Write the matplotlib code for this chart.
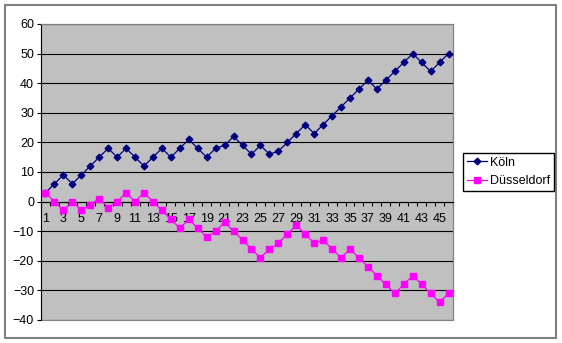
import matplotlib
matplotlib.use('Agg')
import matplotlib.pyplot as plt
from matplotlib.patches import Rectangle
from matplotlib.ticker import FixedLocator, NullFormatter

plt.rcParams['font.family'] = ['Liberation Sans', 'DejaVu Sans']

points = list(range(1, 47))
koeln = [3, 6, 9, 6, 9, 12, 15, 18, 15, 18,
         15, 12, 15, 18, 15, 18, 21, 18, 15, 18,
         19, 22, 19, 16, 19, 16, 17, 20, 23, 26,
         23, 26, 29, 32, 35, 38, 41, 38, 41, 44,
         47, 50, 47, 44, 47, 50]
duesseldorf = [3, 0, -3, 0, -3, -1, 1, -2, 0, 3,
               0, 3, 0, -3, -6, -9, -6, -9, -12, -10,
               -7, -10, -13, -16, -19, -16, -14, -11, -8, -11,
               -14, -13, -16, -19, -16, -19, -22, -25, -28, -31,
               -28, -25, -28, -31, -34, -31]
x_labels = [str(p) for p in points[::2]]
y_ticks = list(range(-40, 61, 10))

W, H = 562, 343
fig = plt.figure(figsize=(W / 100, H / 100), dpi=100)
fig.patch.set_facecolor('white')

# outer chart frame
fig.patches.append(Rectangle((5 / W, 5 / H), 551 / W, 333 / H, transform=fig.transFigure,
                             fill=False, edgecolor='#808080', linewidth=1.5))

ax = fig.add_axes([41 / W, 23 / H, 412 / W, 296 / H])
ax.set_facecolor('#C0C0C0')

ax.plot(points, koeln, color='#000080', marker='D', markersize=3.4, linewidth=0.9,
        label='Köln', zorder=3)
ax.plot(points, duesseldorf, color='#FF00FF', marker='s', markersize=3.8, linewidth=0.9,
        label='Düsseldorf', zorder=3)

ax.set_xlim(0.5, 46.5)
ax.set_ylim(-40, 60)

# y axis
ax.set_yticks(y_ticks)
ax.tick_params(axis='y', direction='out', length=3, width=0.8, labelsize=9, pad=2, colors='black')
ax.yaxis.grid(True, color='black', linewidth=0.8)
ax.set_axisbelow(True)

# x axis sits at zero
ax.spines['bottom'].set_position(('data', 0))
ax.spines['bottom'].set_color('black')
ax.spines['bottom'].set_linewidth(0.8)
ax.spines['left'].set_color('black')
ax.spines['left'].set_linewidth(0.8)
for s in ['top', 'right']:
    ax.spines[s].set_color('#808080')
    ax.spines[s].set_linewidth(0.8)
ax.add_patch(Rectangle((0, 0), 1, 1, transform=ax.transAxes, fill=False,
                       edgecolor='#808080', linewidth=0.8, clip_on=False))

ax.xaxis.set_major_locator(FixedLocator([p - 0.5 for p in points] + [46.5]))
ax.xaxis.set_major_formatter(NullFormatter())
ax.set_xticks(points[::2], x_labels, minor=True)
ax.tick_params(axis='x', which='major', direction='out', length=3, width=0.8)
ax.tick_params(axis='x', which='minor', length=0, labelsize=9, pad=8)

fig.legend(loc='upper left', bbox_to_anchor=(463 / W, 1 - 153 / H), fontsize=9,
           frameon=True, fancybox=False, edgecolor='black', framealpha=1,
           handlelength=1.6, handletextpad=0.25, borderpad=0.3, labelspacing=0.5,
           borderaxespad=0)

fig.savefig('out.png', dpi=100)
